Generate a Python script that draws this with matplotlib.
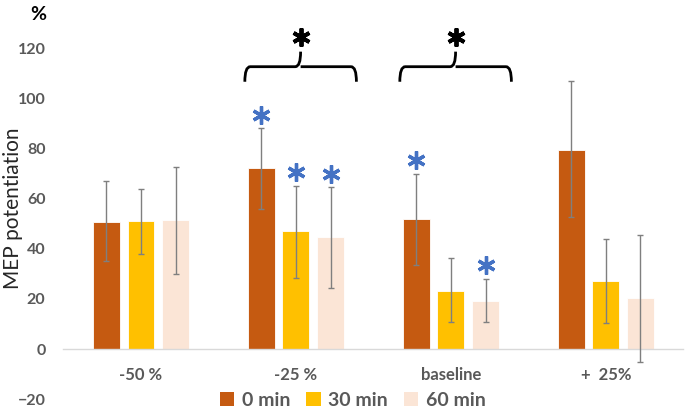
import numpy as np
import matplotlib
matplotlib.use('Agg')
import matplotlib.pyplot as plt
from matplotlib.path import Path
from matplotlib.patches import PathPatch, Patch

plt.rcParams['font.family'] = ['Lato', 'DejaVu Sans']

# data
categories = ['-50 %', '-25 %', 'baseline', '+  25%']
series = ['0 min', '30 min', '60 min']
colors = ['#C55A11', '#FFC000', '#FBE5D6']

vals_0 = [50.5, 72.0, 52.0, 79.5]
lo_0 = [35.0, 56.0, 33.5, 52.8]
hi_0 = [67.0, 88.0, 70.0, 107.0]

vals_30 = [51.0, 47.0, 23.3, 27.0]
lo_30 = [38.0, 28.5, 10.7, 10.3]
hi_30 = [64.0, 65.0, 36.2, 43.8]

vals_60 = [51.5, 44.5, 19.3, 20.2]
lo_60 = [30.0, 24.5, 10.9, -5.0]
hi_60 = [72.5, 64.5, 27.9, 45.5]

# significance markers: (category index, series index)
blue_stars = [(1, 0), (1, 1), (1, 2), (2, 0), (2, 2)]
brace_groups = [1, 2]

values = [vals_0, vals_30, vals_60]
lows = [lo_0, lo_30, lo_60]
highs = [hi_0, hi_30, hi_60]

fig = plt.figure(figsize=(6.85, 4.09), dpi=100)
ax = fig.add_axes([0.0927, 0.024, 0.905, 0.976])

x = np.arange(len(categories))
offset = 0.223
width = 0.174
grey = '#595959'

for i in range(3):
    xs = x + (i - 1) * offset
    v = np.array(values[i])
    yerr = [v - np.array(lows[i]), np.array(highs[i]) - v]
    ax.bar(xs, v, width, color=colors[i], edgecolor='white', linewidth=0.6, zorder=2)
    ax.errorbar(xs, v, yerr=yerr, fmt='none', ecolor='#7f7f7f', elinewidth=1,
                capsize=2.5, capthick=1, zorder=3)

# blue stars above error bars
for ci, si in blue_stars:
    ax.plot(ci + (si - 1) * offset, highs[si][ci] + 5.5, marker=(6, 2, 0),
            markersize=13, mew=2.4, color='#4472C4', zorder=4)

# curly braces with black star
for g in brace_groups:
    c = g + 0.03
    half = 0.36
    y0, y1, y2 = 106.6, 112.6, 118.6
    r = 0.035
    verts = [(c - half, y0), (c - half, y1), (c - half + r, y1),
             (c - r, y1), (c, y1), (c, y2),
             (c, y1), (c + r, y1),
             (c + half - r, y1), (c + half, y1), (c + half, y0)]
    codes = [Path.MOVETO, Path.CURVE3, Path.CURVE3,
             Path.LINETO, Path.CURVE3, Path.CURVE3,
             Path.MOVETO, Path.LINETO,
             Path.LINETO, Path.CURVE3, Path.CURVE3]
    ax.add_patch(PathPatch(Path(verts, codes), fill=False, lw=2, color='black',
                           capstyle='butt', zorder=4))
    ax.plot(c, 124.5, marker=(6, 2, 0), markersize=13, mew=2.8, color='black', zorder=4)

ax.set_xlim(-0.5, 3.5)
ax.set_ylim(-20, 139.2)
ax.set_yticks(np.arange(-20, 121, 20))
ax.set_xticks(x)
ax.set_xticklabels(categories)

for s in ['top', 'right', 'left']:
    ax.spines[s].set_visible(False)
ax.spines['bottom'].set_position(('data', 0))
ax.spines['bottom'].set_color('#d9d9d9')
ax.spines['bottom'].set_linewidth(1)

ax.tick_params(axis='y', length=0, pad=13, labelsize=11.5, labelcolor=grey)
ax.tick_params(axis='x', length=0, pad=13, labelsize=12, labelcolor=grey)
for lab in ax.get_xticklabels() + ax.get_yticklabels():
    lab.set_fontweight('bold')

fig.text(0.005, 0.49, 'MEP potentiation', rotation=90, fontsize=15, va='center',
         ha='left', color='#262626')
fig.text(0.044, 0.965, '%', fontsize=14, fontweight='bold', va='center', ha='left')

handles = [Patch(facecolor=c, edgecolor='none') for c in colors]
leg = fig.legend(handles, series, loc='center', bbox_to_anchor=(0.515, 0.022), ncol=3,
                 frameon=False, handlelength=0.75, handleheight=0.75, handletextpad=0.4,
                 columnspacing=0.8, borderaxespad=0,
                 prop={'size': 14, 'weight': 'bold'})
for t in leg.get_texts():
    t.set_color(grey)

fig.savefig('out.png', dpi=100)
